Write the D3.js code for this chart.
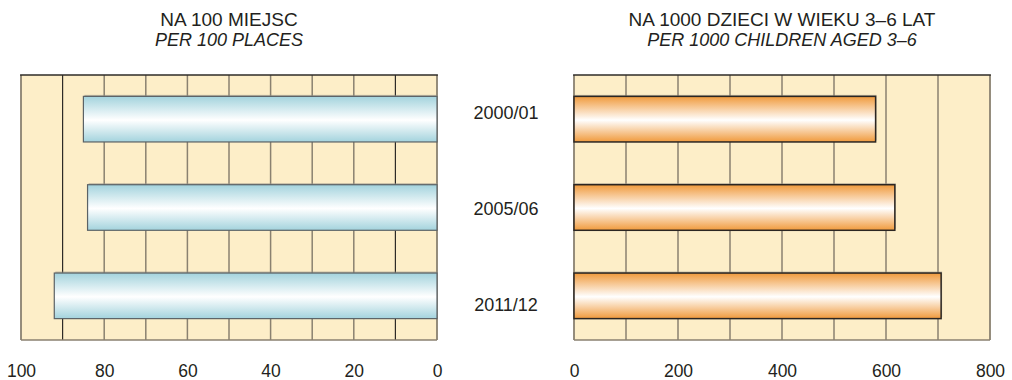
<!DOCTYPE html>
<html>
<head>
<meta charset="utf-8">
<script src="https://cdn.jsdelivr.net/npm/d3@7"></script>
<style>
  html, body { margin: 0; padding: 0; background: #fff; }
  svg { display: block; }
  text { font-family: "Liberation Sans", Arial, sans-serif; fill: #231f20; }
</style>
</head>
<body>
<svg id="chart" width="1012" height="380"></svg>
<script>
// School years shown on both panels
const years = ["2000/01", "2005/06", "2011/12"];
// Children per 100 places in kindergartens
const perPlaces = [85, 84, 92];
// Children in kindergartens per 1000 children aged 3–6
const perChildren = [580, 617, 706];

const leftTicks = [100, 80, 60, 40, 20, 0];
const leftGrid = [90, 80, 70, 60, 50, 40, 30, 20, 10];
const rightTicks = [0, 200, 400, 600, 800];
const rightGrid = [100, 200, 300, 400, 500, 600, 700];

const titles = {
  left: ["NA 100 MIEJSC", "PER 100 PLACES"],
  right: ["NA 1000 DZIECI W WIEKU 3–6 LAT", "PER 1000 CHILDREN AGED 3–6"]
};

const svg = d3.select("#chart");
const plotTop = 75, plotBottom = 340;

const defs = svg.append("defs");
function gradient(id, edge) {
  const g = defs.append("linearGradient").attr("id", id)
    .attr("x1", 0).attr("y1", 0).attr("x2", 0).attr("y2", 1);
  g.append("stop").attr("offset", "0%").attr("stop-color", edge);
  g.append("stop").attr("offset", "52%").attr("stop-color", "#ffffff");
  g.append("stop").attr("offset", "100%").attr("stop-color", edge);
}
gradient("gBlue", "#a3d3dd");
gradient("gOrange", "#f09a3c");

const y = d3.scaleBand().domain(years).range([plotTop, plotBottom])
  .paddingInner(0.484).paddingOuter(0.242);

function panel(opts) {
  const { x, grid, ticks, values, fill, stroke, strokeW, darkGrid, title } = opts;
  const [x0, x1] = x.range();
  const lo = Math.min(x0, x1), hi = Math.max(x0, x1);
  const g = svg.append("g");

  g.append("rect").attr("x", lo).attr("y", plotTop).attr("width", hi - lo)
    .attr("height", plotBottom - plotTop).attr("fill", "#fdeec8");

  g.selectAll("line.grid").data(grid).join("line").attr("class", "grid")
    .attr("x1", d => x(d)).attr("x2", d => x(d))
    .attr("y1", plotTop).attr("y2", plotBottom)
    .attr("stroke", d => darkGrid.includes(d) ? "#2e2b27" : "#8a8170")
    .attr("stroke-width", d => darkGrid.includes(d) ? 1.2 : 1.5);

  // frame
  g.append("line").attr("x1", lo).attr("x2", lo).attr("y1", plotTop).attr("y2", plotBottom)
    .attr("stroke", "#8a8170").attr("stroke-width", 1.8);
  g.append("line").attr("x1", hi).attr("x2", hi).attr("y1", plotTop).attr("y2", plotBottom)
    .attr("stroke", "#8a8170").attr("stroke-width", 1.8);
  g.append("line").attr("x1", lo).attr("x2", hi).attr("y1", plotBottom).attr("y2", plotBottom)
    .attr("stroke", "#8a8170").attr("stroke-width", 1.5);
  g.append("line").attr("x1", lo - 0.9).attr("x2", hi + 0.9).attr("y1", plotTop).attr("y2", plotTop)
    .attr("stroke", "#2e2b27").attr("stroke-width", 1.5);

  const bx = d => Math.min(x(0), x(d));
  const bw = d => Math.abs(x(d) - x(0));

  // soft shadow behind bars
  g.selectAll("rect.shadow").data(values).join("rect").attr("class", "shadow")
    .attr("x", d => bx(d) + 1).attr("y", (d, i) => y(years[i]) - 1.5)
    .attr("width", bw).attr("height", y.bandwidth())
    .attr("fill", "#9a9488").attr("opacity", 0.6);

  g.selectAll("rect.bar").data(values).join("rect").attr("class", "bar")
    .attr("x", bx).attr("y", (d, i) => y(years[i]))
    .attr("width", bw).attr("height", y.bandwidth())
    .attr("fill", fill).attr("stroke", stroke).attr("stroke-width", strokeW);

  const axis = d3.axisBottom(x).tickValues(ticks).tickSize(0).tickPadding(0);
  const ax = g.append("g").attr("transform", `translate(0,${plotBottom})`).call(axis);
  ax.select(".domain").remove();
  ax.selectAll("text").attr("y", 37).attr("dy", 0)
    .style("font-size", "17.5px").style("font-family", '"Liberation Sans", Arial, sans-serif')
    .attr("fill", "#231f20");

  const cx = (lo + hi) / 2;
  g.append("text").attr("x", cx).attr("y", 26).attr("text-anchor", "middle")
    .style("font-size", "19px").text(title[0]);
  g.append("text").attr("x", cx).attr("y", 46).attr("text-anchor", "middle")
    .style("font-size", "18px").style("font-style", "italic").text(title[1]);
}

panel({
  x: d3.scaleLinear().domain([100, 0]).range([21, 437]),
  grid: leftGrid, ticks: leftTicks, values: perPlaces,
  fill: "url(#gBlue)", stroke: "#5b6266", strokeW: 1.2,
  darkGrid: [90, 10], title: titles.left
});

panel({
  x: d3.scaleLinear().domain([0, 800]).range([574, 990]),
  grid: rightGrid, ticks: rightTicks, values: perChildren,
  fill: "url(#gOrange)", stroke: "#2b2622", strokeW: 1.5,
  darkGrid: [], title: titles.right
});

// category labels between the panels
const yLabel = d3.scalePoint().domain(years).range([119, 311]);
svg.append("g").selectAll("text").data(years).join("text")
  .attr("x", 506).attr("y", d => yLabel(d)).attr("text-anchor", "middle")
  .style("font-size", "18px").text(d => d);
</script>
</body>
</html>
